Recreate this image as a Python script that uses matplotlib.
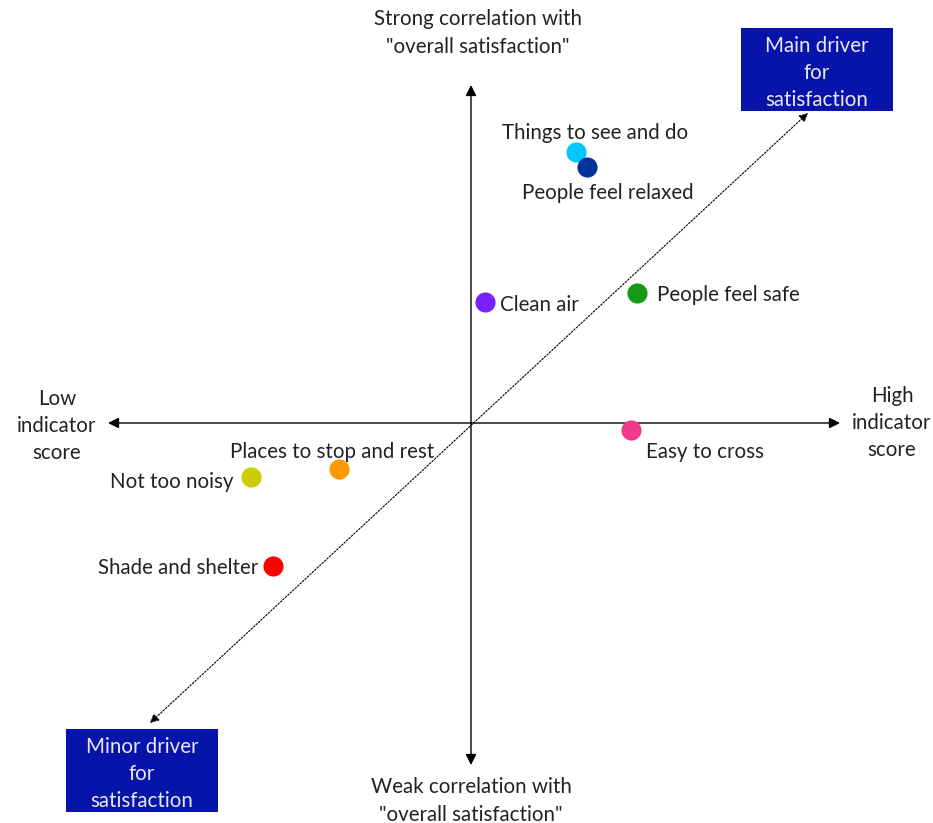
import matplotlib
matplotlib.use("Agg")
import matplotlib.pyplot as plt
from matplotlib.patches import Rectangle

plt.rcParams['font.family'] = ['Lato', 'DejaVu Sans']

# indicator score (x) vs correlation with overall satisfaction (y), origin = axes crossing
labels = ["Things to see and do", "People feel relaxed", "Clean air", "People feel safe",
          "Easy to cross", "Places to stop and rest", "Not too noisy", "Shade and shelter"]
score = [1.05, 1.16, 0.14, 1.66, 1.60, -1.32, -2.20, -1.98]
corr = [2.71, 2.56, 1.21, 1.30, -0.07, -0.46, -0.54, -1.43]
colors = ["#00c8ff", "#003399", "#7a1fff", "#169a16", "#f23a8c", "#ff9900", "#cccc00", "#ff0000"]
# label offsets in pixels and alignment
offsets = [(19, 19), (21, -26), (15, -3), (20, -2), (15, -22), (-7, 17), (-17, -5), (-15, -2)]
aligns = ["center", "center", "left", "left", "left", "center", "right", "right"]

fig = plt.figure(figsize=(9.33, 8.23), dpi=100)
ax = fig.add_axes([0, 0, 1, 1])
ax.set_xlim(-4.71, 4.62)
ax.set_ylim(-4.00, 4.23)
ax.axis("off")

arrow = dict(arrowstyle="-|>", color="black", lw=1.0, mutation_scale=16, shrinkA=0, shrinkB=0)
# axes
ax.annotate("", xy=(3.69, 0), xytext=(0, 0), arrowprops=arrow)
ax.annotate("", xy=(-3.63, 0), xytext=(0, 0), arrowprops=arrow)
ax.annotate("", xy=(0, 3.38), xytext=(0, 0), arrowprops=arrow)
ax.annotate("", xy=(0, -3.42), xytext=(0, 0), arrowprops=arrow)

# dotted diagonal
diag = dict(arrowstyle="<|-|>", color="black", lw=0.8, ls=(0, (1.5, 1.5)), mutation_scale=13,
            shrinkA=0, shrinkB=0)
ax.annotate("", xy=(3.37, 3.10), xytext=(-3.21, -3.00), arrowprops=diag)

fs = 14.8
for x, y, c, lab, off, ha in zip(score, corr, colors, labels, offsets, aligns):
    ax.scatter(x, y, s=210, color=c, zorder=3, linewidths=0)
    ax.annotate(lab, (x, y), xytext=off, textcoords="offset pixels", ha=ha, va="center",
                fontsize=fs, color="#222222")

ax.text(0.07, 3.90, 'Strong correlation with\n"overall satisfaction"', ha="center", va="center",
        fontsize=fs, color="#222222", linespacing=1.45)
ax.text(0.0, -3.78, 'Weak correlation with\n"overall satisfaction"', ha="center", va="center",
        fontsize=fs, color="#222222", linespacing=1.45)
ax.text(-4.14, -0.03, "Low\nindicator\nscore", ha="center", va="center", fontsize=fs,
        color="#222222", linespacing=1.45)
ax.text(4.21, 0.0, "High\nindicator\nscore", ha="center", va="center", fontsize=fs,
        color="#222222", linespacing=1.45)

ax.add_patch(Rectangle((2.70, 3.12), 1.52, 0.83, fc="#0714aa", ec="none"))
ax.add_patch(Rectangle((-4.05, -3.89), 1.52, 0.83, fc="#0714aa", ec="none"))
ax.text(3.46, 3.50, "Main driver\nfor\nsatisfaction", ha="center", va="center", fontsize=fs,
        color="#e8e8f4", linespacing=1.45)
ax.text(-3.29, -3.51, "Minor driver\nfor\nsatisfaction", ha="center", va="center", fontsize=fs,
        color="#e8e8f4", linespacing=1.45)

fig.savefig("out.png", dpi=100)
